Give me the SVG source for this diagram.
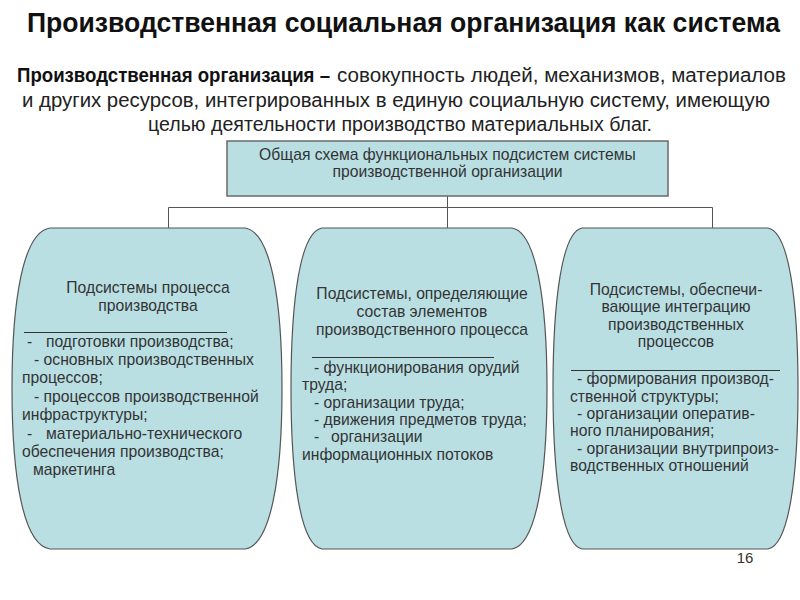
<svg xmlns="http://www.w3.org/2000/svg" width="800" height="600" viewBox="0 0 800 600">
<style>
.title{font-family:"Liberation Sans Narrow","Liberation Sans",Arial,sans-serif;font-weight:bold;font-size:27px;fill:#111}
.para{font-family:"Liberation Sans Narrow","Liberation Sans",Arial,sans-serif;font-size:20px;fill:#222}
.parab{font-family:"Liberation Sans Narrow","Liberation Sans",Arial,sans-serif;font-size:20px;font-weight:bold;fill:#111}
.t{font-family:"Liberation Sans",Arial,sans-serif;font-size:15.7px;fill:#333}
.c{text-anchor:middle}
.shape{fill:#b9dfe3;stroke:#555;stroke-width:1.2}
.box{fill:#b9dfe3;stroke:#6a6a6a;stroke-width:1.5}
.sep{stroke:#333;stroke-width:1}
.conn{stroke:#555;stroke-width:1;fill:none}
.num{font-family:"Liberation Sans",Arial,sans-serif;font-size:15px;fill:#333;text-anchor:middle}
</style>
<rect width="800" height="600" fill="#ffffff"/>
<text class="title" x="27" y="32" textLength="753" lengthAdjust="spacingAndGlyphs">Производственная социальная организация как система</text>
<text class="parab" x="17" y="82" textLength="313" lengthAdjust="spacingAndGlyphs">Производственная организация –</text>
<text class="para" x="337" y="82" textLength="449" lengthAdjust="spacingAndGlyphs">совокупность людей, механизмов, материалов</text>
<text class="para" x="22" y="107" textLength="748" lengthAdjust="spacingAndGlyphs">и других ресурсов, интегрированных в единую социальную систему, имеющую</text>
<text class="para" x="148" y="131" textLength="504" lengthAdjust="spacingAndGlyphs">целью деятельности производство материальных благ.</text>

<g id="connectors">
<path class="conn" d="M447.5,196 V228 M168.5,207.5 H712.5 M168.5,207.5 V228 M712.5,207.5 V228"/>
</g>

<g id="top">
<rect class="box" x="227" y="141" width="441" height="55"/>
<text class="t c" x="447.5" y="160">Общая схема функциональных подсистем системы</text>
<text class="t c" x="447.5" y="177">производственной организации</text>
</g>

<g id="left">
<path class="shape" d="M50,228 H245 C271,232 282,300 282,388.5 C282,477 271,545 245,549 H50 C23,545 12,477 12,388.5 C12,300 23,232 50,228 Z"/>
<text class="t c" x="148" y="293">Подсистемы процесса</text>
<text class="t c" x="148" y="311">производства</text>
<line class="sep" x1="24" y1="332.5" x2="227" y2="332.5"/>
<text class="t" x="27" y="347">-<tspan x="46">подготовки производства;</tspan></text>
<text class="t" x="34" y="365">- основных производственных</text>
<text class="t" x="22" y="383">процессов;</text>
<text class="t" x="34" y="402">- процессов производственной</text>
<text class="t" x="22" y="420">инфраструктуры;</text>
<text class="t" x="27" y="439">-<tspan x="46">материально-технического</tspan></text>
<text class="t" x="22" y="457">обеспечения производства;</text>
<text class="t" x="33" y="475">маркетинга</text>
</g>

<g id="middle">
<path class="shape" d="M322,228 H512 C536,232 547,300 547,388.5 C547,477 536,545 512,549 H322 C300,545 291,477 291,388.5 C291,300 300,232 322,228 Z"/>
<text class="t c" x="422" y="299">Подсистемы, определяющие</text>
<text class="t c" x="422" y="317">состав элементов</text>
<text class="t c" x="422" y="335">производственного процесса</text>
<line class="sep" x1="312" y1="357.5" x2="494" y2="357.5"/>
<text class="t" x="314" y="373">- функционирования орудий</text>
<text class="t" x="302" y="390">труда;</text>
<text class="t" x="314" y="408">- организации труда;</text>
<text class="t" x="314" y="425">- движения предметов труда;</text>
<text class="t" x="314" y="442">-<tspan x="331">организации</tspan></text>
<text class="t" x="302" y="460">информационных потоков</text>
</g>

<g id="right">
<path class="shape" d="M582,228 H768 C789,232 798,300 798,388.5 C798,477 789,545 768,549 H582 C562,545 553,477 553,388.5 C553,300 562,232 582,228 Z"/>
<text class="t c" x="676" y="295">Подсистемы, обеспечи-</text>
<text class="t c" x="676" y="312">вающие интеграцию</text>
<text class="t c" x="676" y="330">производственных</text>
<text class="t c" x="676" y="347">процессов</text>
<line class="sep" x1="571" y1="370.5" x2="780" y2="370.5"/>
<text class="t" x="577" y="384">- формирования производ-</text>
<text class="t" x="570" y="402">ственной структуры;</text>
<text class="t" x="577" y="419">- организации оператив-</text>
<text class="t" x="570" y="436">ного планирования;</text>
<text class="t" x="577" y="454">- организации внутрипроиз-</text>
<text class="t" x="570" y="471">водственных отношений</text>
</g>

<text class="num" x="745" y="563">16</text>
</svg>
